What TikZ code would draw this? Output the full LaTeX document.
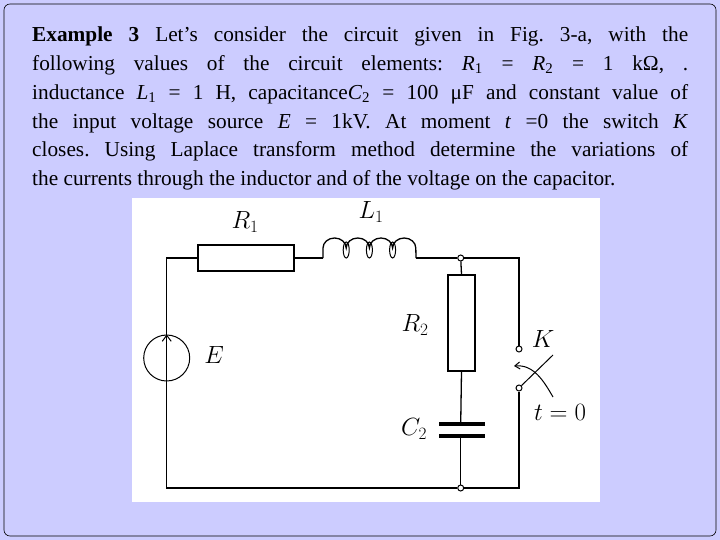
\documentclass[tikz,border=0pt]{standalone}
\usepackage{fontspec}
\setmainfont{Liberation Serif}
\usetikzlibrary{arrows.meta}
\definecolor{bg}{HTML}{CCCCFF}
\tikzset{w/.style={line width=1.3pt},
 comp/.style={draw,line width=1.3pt,fill=white},
 term/.style={circle,draw,line width=1pt,fill=white,inner sep=0pt,minimum size=6pt},
 lab/.style={font=\fontsize{24}{24}\selectfont}}
\begin{document}
\begin{tikzpicture}[x=1pt,y=-1pt]
\useasboundingbox (0,0) rectangle (720,540);
\fill[bg] (0,0) rectangle (720,540);
\draw[rounded corners=6pt,line width=0.6pt] (4,4) rectangle (716,536);
\node[anchor=north west,inner sep=0pt,text width=656pt,align=justify,font=\fontsize{21.3}{28.7}\selectfont\frenchspacing] (txt) at (32,27) {%
\textbf{Example 3} Let’s consider the circuit given in Fig. 3-a, with the\linebreak
following values of the circuit elements: \textit{R}\textsubscript{1} = \textit{R}\textsubscript{2} = 1 kΩ, .\linebreak
inductance \textit{L}\textsubscript{1} = 1 H, capacitance\textit{C}\textsubscript{2} = 100 μF and constant value of\linebreak
the input voltage source \textit{E} = 1kV. At moment \textit{t} =0 the switch \textit{K}\linebreak
closes. Using Laplace transform method determine the variations of\linebreak
the currents through the inductor and of the voltage on the capacitor.};
\fill[white] (132,198) rectangle (600,502);
\coordinate (tl) at (166.7,258);
\coordinate (bl) at (166.7,488);
\coordinate (br) at (519,488);
\coordinate (tr) at (519,258);
\node[term] (nt) at (460.7,258) {};
\node[term] (nb) at (460.7,488) {};
\node[term] (k1) at (519,349) {};
\node[term] (k2) at (519,388) {};
\node[comp,minimum width=96pt,minimum height=26pt,inner sep=0pt] (r1) at (246,258) {};
\node[comp,minimum width=27pt,minimum height=96pt,inner sep=0pt] (r2) at (461.5,323) {};
\node[circle,draw,line width=1pt,minimum size=46pt,inner sep=0pt] (src) at (166.7,358) {};
\coordinate (la) at (323,258);
\coordinate (lb) at (416,258);
\draw[w] (src.north) -- (tl) -- (r1.west);
\draw[w] (r1.east) -- (la);
\draw[w] (la) -- (323,248) arc[start angle=180,end angle=0,x radius=11.6pt,y radius=10pt]
  arc[start angle=180,end angle=0,x radius=11.6pt,y radius=10pt]
  arc[start angle=180,end angle=0,x radius=11.6pt,y radius=10pt]
  arc[start angle=180,end angle=0,x radius=11.6pt,y radius=10pt] -- (lb);
\foreach \xx in {346.2,369.4,392.6}
  \draw[line width=1pt] (\xx,250) ellipse[x radius=3pt,y radius=8pt];
\draw[w] (lb) -- (nt) -- (tr) -- (k1);
\draw[w] (nt) -- (r2.north);
\draw[w] (r2.south) -- (460.7,424);
\draw[line width=4pt] (439,424) -- (485,424) (439,436) -- (485,436);
\draw[w] (460.7,436) -- (nb);
\draw[w] (src.south) -- (bl) -- (nb) -- (br) -- (k2);
\draw[line width=1pt,-{Straight Barb[length=6pt,width=9pt]}] (src.south) -- (src.north);
\draw[line width=1pt] (k2) -- (553,355);
\draw[line width=1pt,-{Straight Barb[length=5pt,width=7pt]}] (553,397) to[out=120,in=5] (514,366);
\node[lab] (lr1) at (245,222) {$R_1$};
\node[lab] (ll1) at (371,212) {$L_1$};
\node[lab] (lr2) at (415,325) {$R_2$};
\node[lab] (le) at (214,355) {$E$};
\node[lab] (lk) at (543,339) {$K$};
\node[lab] (lc2) at (414,429) {$C_2$};
\node[lab] (lt) at (560,412) {$t=0$};
\end{tikzpicture}
\end{document}
